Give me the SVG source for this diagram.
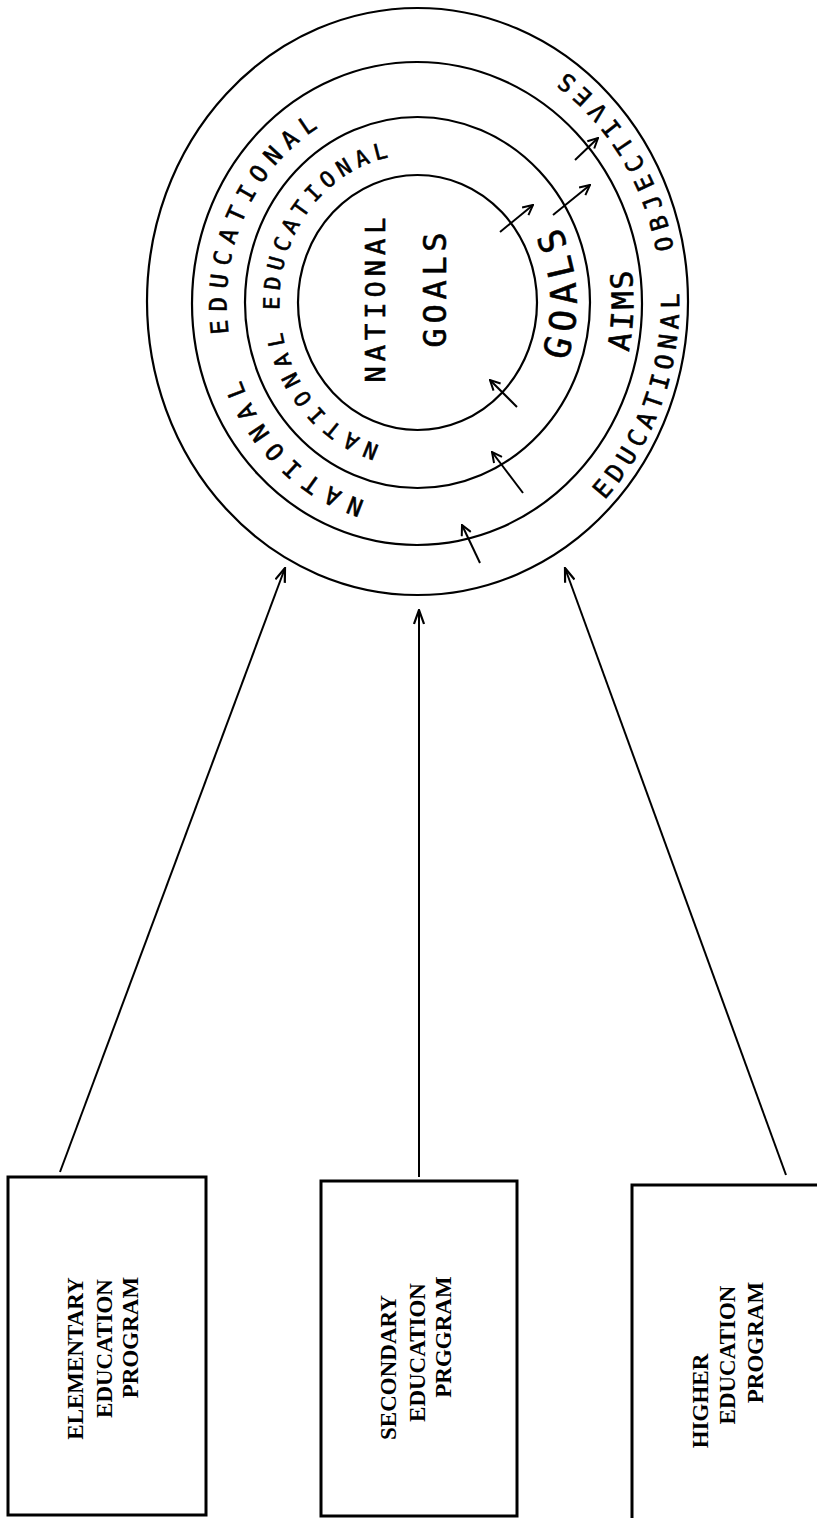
<svg xmlns="http://www.w3.org/2000/svg" xmlns:xlink="http://www.w3.org/1999/xlink" width="817" height="1518" viewBox="0 0 817 1518">
<style>
.ring{fill:none;stroke:#000;stroke-width:2.2}
.box{fill:#fff;stroke:#000;stroke-width:3}
.conn{fill:none;stroke:#000;stroke-width:2}
.hand{font-family:"DejaVu Sans Mono","Liberation Mono",monospace;fill:#000;stroke:#000;stroke-width:0.6}
.btxt{font-family:"Liberation Serif","Times New Roman",serif;font-weight:bold;font-size:23px;fill:#000;text-anchor:middle}
</style>
<defs>
<marker id="ah" markerWidth="12" markerHeight="12" refX="11" refY="6" orient="auto" markerUnits="userSpaceOnUse"><path d="M1,1 L11,6 L1,11" fill="none" stroke="#000" stroke-width="2"/></marker>
<marker id="ahL" markerWidth="16" markerHeight="12" refX="15" refY="6" orient="auto" markerUnits="userSpaceOnUse"><path d="M1,1 L15,6 L1,11" fill="none" stroke="#000" stroke-width="2.2"/></marker>
<path id="p2a" d="M366.7,509.4 A198.75,213.5 0 0 1 237.1,213.4"/>
<path id="p2b" d="M221.5,338.6 A198.75,213.5 0 0 1 418.9,89.5"/>
<path id="p3a" d="M380.7,453.9 A146,156.5 0 0 1 297.3,213.6"/>
<path id="p3b" d="M271.8,313.1 A146,156.5 0 0 1 458,152.1"/>
<path id="p2r" d="M617.4,351.3 A205,219 0 0 0 556.7,142.2"/>
<path id="p3r" d="M553.2,360.2 A146,156.5 0 0 0 494.1,169.3"/>
<path id="p1a" d="M595.6,496.2 A252.7,272.9 0 0 0 625,146.8"/>
<path id="p1b" d="M666.2,254.2 A252.7,272.9 0 0 0 418.4,29.6"/>
</defs>
<rect width="817" height="1518" fill="#fff"/>

<g id="goals-circle">
<ellipse class="ring" cx="417.5" cy="301.5" rx="270.5" ry="293.5"/>
<ellipse class="ring" cx="417" cy="303.5" rx="225" ry="241.5"/>
<ellipse class="ring" cx="417.5" cy="302.5" rx="172.5" ry="185.5"/>
<ellipse class="ring" cx="417.5" cy="302.5" rx="119.5" ry="127.5"/>
<text class="hand" font-size="27" letter-spacing="5" text-anchor="middle" dominant-baseline="central" transform="translate(375,297.5) rotate(-90)">NATIONAL</text>
<text class="hand" font-size="32" letter-spacing="4.7" text-anchor="middle" dominant-baseline="central" transform="translate(435,287.6) rotate(-90)">GOALS</text>
<text class="hand" font-size="22" letter-spacing="8.4" dominant-baseline="central"><textPath href="#p3a" xlink:href="#p3a" startOffset="4.2">NATIONAL</textPath></text>
<text class="hand" font-size="22" letter-spacing="6.8" dominant-baseline="central"><textPath href="#p3b" xlink:href="#p3b" startOffset="3.4">EDUCATIONAL</textPath></text>
<text class="hand" font-size="36" letter-spacing="5.3" dominant-baseline="central"><textPath href="#p3r" xlink:href="#p3r" startOffset="2.7">GOALS</textPath></text>
<text class="hand" font-size="24" letter-spacing="9.95" dominant-baseline="central"><textPath href="#p2a" xlink:href="#p2a" startOffset="5">NATIONAL</textPath></text>
<text class="hand" font-size="24" letter-spacing="8.6" dominant-baseline="central"><textPath href="#p2b" xlink:href="#p2b" startOffset="4.3">EDUCATIONAL</textPath></text>
<text class="hand" font-size="30" letter-spacing="2.4" dominant-baseline="central"><textPath href="#p2r" xlink:href="#p2r" startOffset="1.2">AIMS</textPath></text>
<text class="hand" font-size="25" letter-spacing="5.3" dominant-baseline="central" stroke-width="0.9"><textPath href="#p1a" xlink:href="#p1a" startOffset="2.7">EDUCATIONAL</textPath></text>
<text class="hand" font-size="24" letter-spacing="6.9" dominant-baseline="central"><textPath href="#p1b" xlink:href="#p1b" startOffset="3.4">OBJECTIVES</textPath></text>
</g>

<g id="inner-arrows">
<line class="conn" x1="500" y1="232" x2="533" y2="205" marker-end="url(#ah)"/>
<line class="conn" x1="553" y1="215" x2="590" y2="185" marker-end="url(#ah)"/>
<line class="conn" x1="575" y1="160" x2="598" y2="138" marker-end="url(#ah)"/>
<line class="conn" x1="517" y1="407" x2="490" y2="380" marker-end="url(#ah)"/>
<line class="conn" x1="523" y1="493" x2="492" y2="452" marker-end="url(#ah)"/>
<line class="conn" x1="480" y1="563" x2="462" y2="525" marker-end="url(#ah)"/>
</g>

<g id="connectors">
<line class="conn" x1="60" y1="1172" x2="285" y2="568" marker-end="url(#ahL)"/>
<line class="conn" x1="419" y1="1177" x2="419" y2="610" marker-end="url(#ahL)"/>
<line class="conn" x1="786" y1="1175" x2="565" y2="568" marker-end="url(#ahL)"/>
</g>

<g id="elementary">
<rect class="box" x="8" y="1177" width="198" height="338"/>
<text class="btxt" transform="translate(82.6,1358.5) rotate(-90)">ELEMENTARY</text>
<text class="btxt" transform="translate(111.6,1348.5) rotate(-90)">EDUCATION</text>
<text class="btxt" transform="translate(137.6,1337.5) rotate(-90)">PROGRAM</text>
</g>

<g id="secondary">
<rect class="box" x="321" y="1181" width="196" height="335"/>
<text class="btxt" transform="translate(395.6,1367.5) rotate(-90)">SECONDARY</text>
<text class="btxt" transform="translate(424.6,1352.5) rotate(-90)">EDUCATION</text>
<text class="btxt" transform="translate(450.6,1337) rotate(-90)">PRGGRAM</text>
</g>

<g id="higher">
<rect class="box" x="632" y="1185" width="200" height="345"/>
<text class="btxt" transform="translate(707.6,1401) rotate(-90)">HIGHER</text>
<text class="btxt" transform="translate(734.6,1355) rotate(-90)">EDUCATION</text>
<text class="btxt" transform="translate(762.6,1342.5) rotate(-90)">PROGRAM</text>
</g>
</svg>
